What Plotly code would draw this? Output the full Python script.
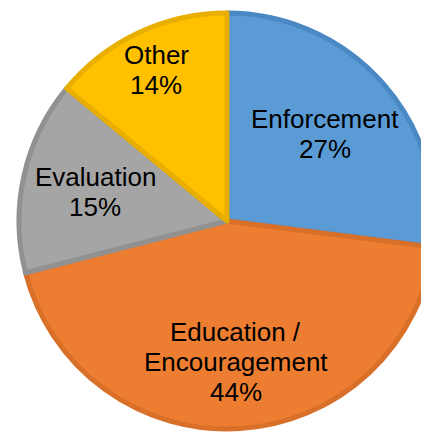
import math

import plotly.graph_objects as go

# Slice data (clockwise from 12 o'clock)
labels = ['Enforcement', 'Education /<br>Encouragement', 'Evaluation', 'Other']
shares = [27, 44, 15, 14]

fill_colors = ['#5B9BD5', '#ED7D31', '#A5A5A5', '#FFC000']
edge_colors = ['#4A88C4', '#D9702A', '#919191', '#E8AE00']

# how far out along the bisector each label sits (fraction of radius)
label_radius = [0.63, 0.68, 0.65, 0.80]
line_gap = 30  # px between label lines

fig = go.Figure(go.Pie(
    labels=labels,
    values=shares,
    sort=False,
    direction='clockwise',
    rotation=0,
    marker=dict(colors=fill_colors, line=dict(color=edge_colors, width=5)),
    textinfo='none',
    hoverinfo='label+percent',
    showlegend=False,
))

# Labels placed on each slice's bisector, one annotation per text line
total = sum(shares)
start = 0
for lab, val, frac in zip(labels, shares, label_radius):
    mid = (start + val / 2) / total * 2 * math.pi
    start += val
    x = 0.5 + 0.5 * frac * math.sin(mid)
    y = 0.5 + 0.5 * frac * math.cos(mid)
    lines = lab.split('<br>') + [f'{val}%']
    n = len(lines)
    for i, line in enumerate(lines):
        fig.add_annotation(
            x=x, y=y, xref='paper', yref='paper',
            text=line, showarrow=False,
            xanchor='center', yanchor='middle',
            yshift=((n - 1) / 2 - i) * line_gap,
            font=dict(family='Liberation Sans, Arial, sans-serif', size=26, color='black'),
        )

fig.update_layout(
    width=428,
    height=427,
    margin=dict(l=11, r=1, t=5, b=6),
    paper_bgcolor='white',
    plot_bgcolor='white',
)

fig.write_html('out.html', post_script="document.body.style.overflow='hidden';")
